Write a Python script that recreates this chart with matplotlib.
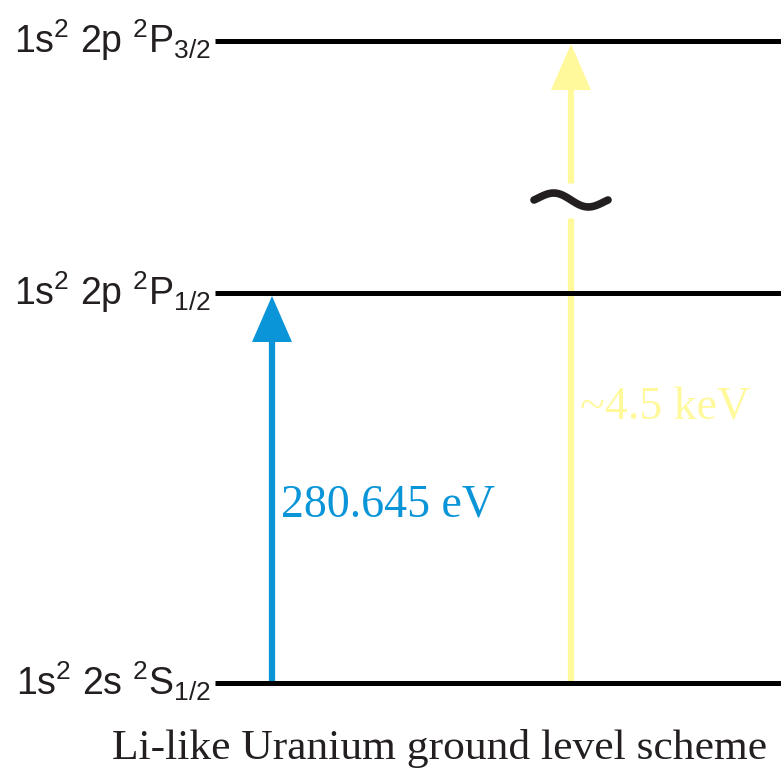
import numpy as np
import matplotlib.pyplot as plt
from matplotlib.patches import Polygon

plt.rcParams['font.family'] = 'Liberation Sans'
plt.rcParams['mathtext.fontset'] = 'custom'
plt.rcParams['mathtext.rm'] = 'Liberation Sans'
plt.rcParams['mathtext.it'] = 'Liberation Sans'

# level scheme (schematic vertical positions, top of figure = 0)
level_labels = [r'$\mathregular{1s^2\ 2s\ ^2S_{1/2}}$',
                r'$\mathregular{1s^2\ 2p\ ^2P_{1/2}}$',
                r'$\mathregular{1s^2\ 2p\ ^2P_{3/2}}$']
level_y = [683, 293, 41]

# transitions: lower level, upper level, label, colour
trans_x = [272, 571]
trans_from = [0, 0]
trans_to = [1, 2]
trans_labels = ['280.645 eV', '~4.5 keV']
trans_colors = ['#0a95d8', '#fff99c']
trans_label_y = [505, 408]

title = 'Li-like Uranium ground level scheme'

fig = plt.figure(figsize=(7.81, 7.76), dpi=100)
ax = fig.add_axes([0, 0, 1, 1])
ax.set_xlim(0, 781)
ax.set_ylim(776, 0)
ax.axis('off')

for lab, y in zip(level_labels, level_y):
    ax.plot([215, 781], [y, y], color='black', lw=3.6, solid_capstyle='butt', zorder=3)
    ax.text(211, y + 12, lab, fontsize=27, ha='right', va='baseline', color='#231f20')

head_len, head_w = 46, 40
for x, i0, i1, lab, c, ly in zip(trans_x, trans_from, trans_to, trans_labels,
                                 trans_colors, trans_label_y):
    y0 = level_y[i0] - 2
    tip = level_y[i1] + 3
    ax.plot([x, x], [y0, tip + head_len - 2], color=c, lw=4.5, solid_capstyle='butt', zorder=2)
    ax.add_patch(Polygon([[x, tip], [x - head_w / 2, tip + head_len],
                          [x + head_w / 2, tip + head_len]], closed=True,
                         facecolor=c, edgecolor='none', zorder=2))
    ax.text(x + 9, ly, lab, fontsize=33, family='Liberation Serif', color=c,
            ha='left', va='center')

# break in the long transition, marked with a tilde
ax.plot([trans_x[1], trans_x[1]], [183, 218], color='white', lw=9, solid_capstyle='butt', zorder=2.5)
t = np.linspace(-1, 1, 80)
ax.plot(trans_x[1] + 37 * t, 200 + 7.5 * np.sin(np.pi * t) * np.cos(0.25 * np.pi * t),
        color='#231f20', lw=5.5, solid_capstyle='round', zorder=3)

ax.text(112, 749, title, fontsize=31.3, family='Liberation Serif', color='#231f20',
        ha='left', va='center')

fig.savefig('out.png', dpi=100)
